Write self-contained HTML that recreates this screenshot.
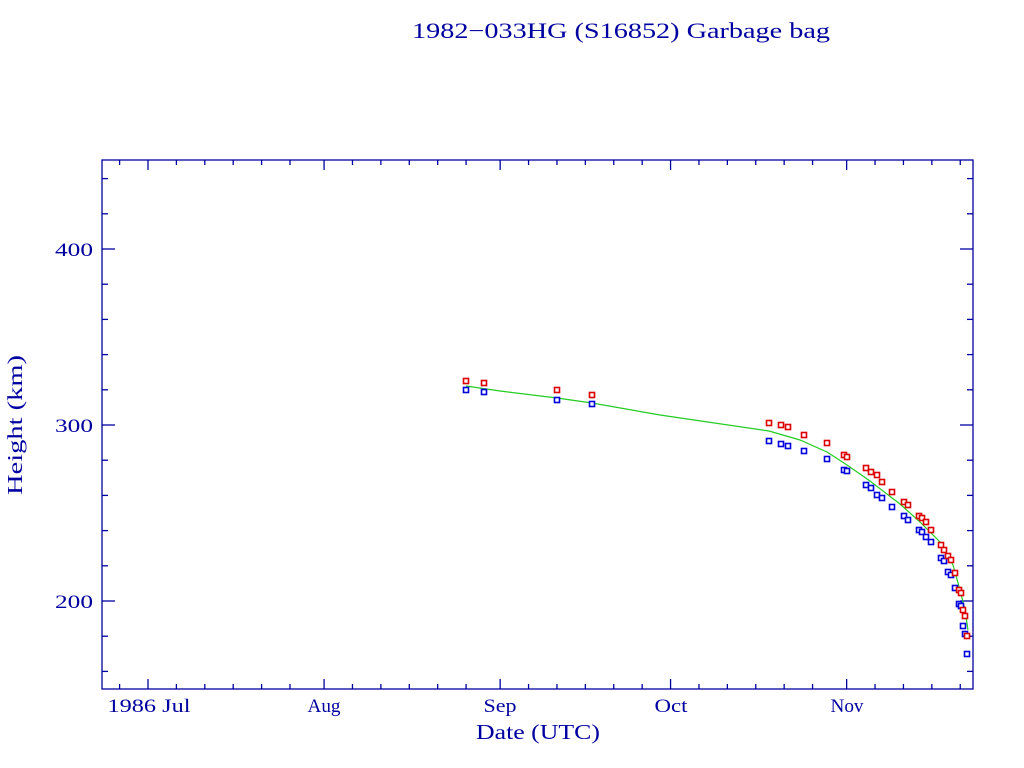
<!DOCTYPE html>
<html><head><meta charset="utf-8"><style>
html,body{margin:0;padding:0;background:#fff;}
svg{display:block;}
text{font-family:"Liberation Serif",serif;fill:#0000a0;}
</style></head><body>
<svg id="s" width="1024" height="768" viewBox="0 0 1024 768" xmlns="http://www.w3.org/2000/svg">
<rect x="0" y="0" width="1024" height="768" fill="#fff"/>
<text x="621" y="38" font-size="22" text-anchor="middle" textLength="418" lengthAdjust="spacingAndGlyphs">1982−033HG (S16852) Garbage bag</text>
<rect x="102" y="160" width="871" height="529" fill="none" stroke="#0000a0" stroke-width="1.3"/>
<g id="ticks" stroke="#0000a0" stroke-width="1.3"></g>
<g font-size="19" lengthAdjust="spacingAndGlyphs">
<text x="149" y="712" text-anchor="middle" textLength="83" lengthAdjust="spacingAndGlyphs">1986 Jul</text>
<text x="324" y="712" text-anchor="middle" textLength="33" lengthAdjust="spacingAndGlyphs">Aug</text>
<text x="500" y="712" text-anchor="middle" textLength="33" lengthAdjust="spacingAndGlyphs">Sep</text>
<text x="671" y="712" text-anchor="middle" textLength="33" lengthAdjust="spacingAndGlyphs">Oct</text>
<text x="847" y="712" text-anchor="middle" textLength="33" lengthAdjust="spacingAndGlyphs">Nov</text>
<text x="93" y="256" text-anchor="end" textLength="38" lengthAdjust="spacingAndGlyphs">400</text>
<text x="93" y="432" text-anchor="end" textLength="38" lengthAdjust="spacingAndGlyphs">300</text>
<text x="93" y="608" text-anchor="end" textLength="38" lengthAdjust="spacingAndGlyphs">200</text>
</g>
<text x="538" y="739" font-size="21" text-anchor="middle" textLength="124" lengthAdjust="spacingAndGlyphs">Date (UTC)</text>
<text x="0" y="0" font-size="21" text-anchor="middle" textLength="140" lengthAdjust="spacingAndGlyphs" transform="translate(22,425) rotate(-90)">Height (km)</text>
<polyline fill="none" stroke="#22cc22" stroke-width="1.2" points="466,386 500,391 557,398 592,403 660,415 769,431 800,440 827,452 847,465 870,481 900,504 920,522 940,542 953,565 960,590 965,610 968,630"/>
<g id="pts"></g>
</svg>
<script>
var NS="http://www.w3.org/2000/svg";
var t=document.getElementById("ticks");
function ln(x1,y1,x2,y2){var l=document.createElementNS(NS,"line");l.setAttribute("x1",x1);l.setAttribute("y1",y1);l.setAttribute("x2",x2);l.setAttribute("y2",y2);t.appendChild(l);}
var months=[[0,31],[31,31],[62,30],[92,31],[123,30]];
function px(d){return 148+d*5.68;}
var xs=[[px(-5),0]];
months.forEach(function(m){xs.push([px(m[0]),1]);[5,10,15,20,25].forEach(function(k){xs.push([px(m[0]+k),0]);});});
xs.forEach(function(a){var x=a[0];if(x<=102||x>=973)return;var L=a[1]?10:5;ln(x,689,x,689-L);ln(x,160,x,160+L);});
for(var v=160;v<=440;v+=20){var y=601-(v-200)*1.76;if(y<=160||y>=689)continue;var L=(v%100==0)?13:6;ln(102,y,102+L,y);ln(973,y,973-L,y);}
var d=[[466,381,390],[484,383,392],[557,390,400],[592,395,404],[769,423,441],[781,425,444],[788,427,446],[804,435,451],[827,443,459],[844,455,470],[847,457,471],[866,468,485],[871,472,488],[877,475,495],[882,482,498],[892,492,507],[904,502,516],[908,505,520],[919,516,530],[922,518,532],[926,522,537],[931,530,542],[941,545,558],[944,550,561],[948,556,572],[951,560,575],[955,573,588],[959,590,604],[961,593,606],[963,610,626],[965,616,634],[967,636,654]];
var p=document.getElementById("pts");
function sq(x,y,c){var r=document.createElementNS(NS,"rect");r.setAttribute("x",x-2.5);r.setAttribute("y",y-2.5);r.setAttribute("width",5);r.setAttribute("height",5);r.setAttribute("fill","#fff");r.setAttribute("stroke",c);r.setAttribute("stroke-width","1.6");p.appendChild(r);}
d.forEach(function(a){sq(a[0],a[1],"#dd0000");sq(a[0],a[2],"#0000dd");});
</script>
</body></html>
